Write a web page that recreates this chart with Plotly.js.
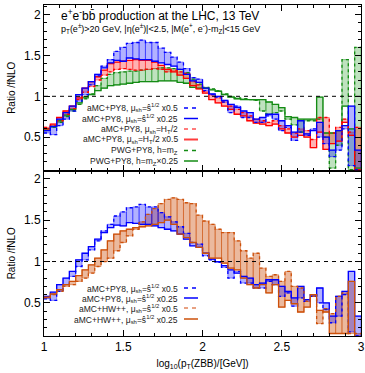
<!DOCTYPE html>
<html><head><meta charset="utf-8">
<script src="https://cdn.plot.ly/plotly-3.0.1.min.js"></script>
<style>html,body{margin:0;padding:0;background:#fff}#chart{width:365px;height:373px}</style>
</head><body><div id="chart"></div>
<script>
// bin edges in log10(pT(ZBB)/GeV)
const xEdges = [1.00,1.04,1.08,1.12,1.16,1.20,1.24,1.28,1.32,1.36,1.40,1.44,1.48,1.52,1.56,1.60,1.64,1.68,1.72,1.76,1.80,1.84,1.88,1.92,1.96,2.00,2.04,2.08,2.12,2.16,2.20,2.24,2.28,2.32,2.36,2.40,2.44,2.48,2.52,2.56,2.60,2.64,2.68,2.72,2.76,2.80,2.84,2.88,2.92,2.96,3.00];

// aMC+PY8, mu_sh = shat^1/2 x0.5 (dashed blue)
const amcPy8Shat05 = [0.55,0.53,0.64,0.72,0.82,0.94,1.02,1.14,1.25,1.37,1.45,1.55,1.60,1.65,1.66,1.69,1.66,1.66,1.59,1.54,1.48,1.42,1.34,1.23,1.21,1.07,1.02,0.99,0.93,0.80,0.88,0.74,0.74,0.68,0.68,0.76,0.72,0.58,0.62,0.46,0.56,0.52,0.60,0.50,0.42,0.26,0.34,0.60,0.15,0.10];
// aMC+PY8, mu_sh = shat^1/2 x0.25 (solid blue)
const amcPy8Shat025 = [0.58,0.63,0.72,0.80,0.88,1.02,1.10,1.18,1.27,1.35,1.41,1.44,1.43,1.47,1.46,1.45,1.45,1.43,1.41,1.39,1.37,1.33,1.27,1.19,1.17,1.10,1.03,1.00,0.95,0.90,0.86,0.82,0.80,0.72,0.74,0.78,0.78,0.70,0.64,0.56,0.70,0.54,0.58,0.68,0.50,0.34,0.58,0.64,0.88,0.34];
// aMC+PY8, mu_sh = H_T/2 (dashed red)
const amcPy8Ht = [0.62,0.64,0.70,0.78,0.85,0.96,1.05,1.12,1.20,1.26,1.30,1.33,1.34,1.33,1.32,1.32,1.33,1.34,1.33,1.30,1.32,1.30,1.28,1.18,1.14,1.06,1.02,0.98,0.93,0.88,0.84,0.80,0.76,0.72,0.70,0.68,0.70,0.64,0.60,0.55,0.60,0.58,0.47,0.74,0.74,0.55,0.62,0.72,0.56,0.62];
// aMC+PY8, mu_sh = H_T/2 x0.5 (solid red)
const amcPy8Ht05 = [0.60,0.66,0.74,0.82,0.88,0.98,1.10,1.18,1.24,1.32,1.40,1.42,1.43,1.44,1.45,1.44,1.44,1.42,1.38,1.33,1.30,1.26,1.22,1.13,1.09,1.04,0.96,0.92,0.88,0.84,0.78,0.76,0.70,0.67,0.66,0.64,0.66,0.60,0.55,0.50,0.52,0.50,0.37,0.56,0.35,0.42,0.45,0.68,0.52,0.10];
// PWG+PY8, h = mZ (dashed green)
const pwgPy8Mz = [0.58,0.62,0.68,0.75,0.82,0.90,0.97,1.03,1.13,1.22,1.27,1.29,1.30,1.31,1.31,1.32,1.33,1.34,1.35,1.35,1.34,1.33,1.29,1.21,1.15,1.11,1.09,1.07,1.03,1.00,0.98,0.97,0.96,0.95,0.82,0.78,0.80,0.82,0.72,0.65,0.56,0.70,0.70,0.72,0.50,0.12,0.40,1.45,0.10,1.60];
// PWG+PY8, h = mZ x0.25 (solid green)
const pwgPy8Mz025 = [0.60,0.63,0.70,0.77,0.84,0.92,0.99,1.02,1.07,1.10,1.13,1.14,1.15,1.16,1.17,1.18,1.18,1.18,1.19,1.19,1.19,1.17,1.16,1.11,1.10,1.10,1.08,1.06,1.02,0.99,0.97,0.96,0.96,0.96,0.96,0.93,0.90,0.86,0.75,0.74,0.72,0.72,0.72,0.99,0.55,0.55,0.58,0.88,0.60,0.12];
// aMC+HW++, mu_sh = shat^1/2 x0.5 (dashed orange)
const amcHwShat05 = [0.56,0.60,0.64,0.70,0.72,0.76,0.80,0.86,0.94,1.00,1.04,1.13,1.23,1.31,1.39,1.48,1.57,1.64,1.70,1.75,1.77,1.75,1.71,1.70,1.56,1.49,1.45,1.39,1.35,1.35,1.25,1.13,1.04,1.10,0.92,0.82,0.84,0.76,0.88,0.70,0.68,0.52,0.58,0.25,0.43,0.37,0.58,0.62,0.13,0.13];
// aMC+HW++, mu_sh = shat^1/2 x0.25 (solid orange)
const amcHwShat025 = [0.57,0.61,0.66,0.72,0.76,0.83,0.90,0.96,1.04,1.14,1.25,1.33,1.37,1.39,1.41,1.42,1.43,1.45,1.47,1.50,1.45,1.33,1.29,1.23,1.17,1.10,1.04,1.04,0.98,0.92,0.90,0.80,0.72,0.68,0.72,0.62,0.72,0.45,0.53,0.49,0.39,0.45,0.60,0.41,0.39,0.13,0.13,0.13,0.76,0.09];

const yTicks = [0.5, 1, 1.5, 2];
const xTicks = [1, 1.5, 2, 2.5, 3];

const centers = xEdges.slice(0,-1).map((e,i)=>(e + xEdges[i+1]) / 2);
const widths = xEdges.slice(0,-1).map((e,i)=>xEdges[i+1] - e);

function band(a, b, xa, ya, fill, edge) {
  return {type:'bar', x:centers, width:widths,
    base:a.map((v,i)=>Math.min(v,b[i])),
    y:a.map((v,i)=>Math.abs(b[i]-v)),
    xaxis:xa, yaxis:ya, marker:{color:fill, line:{color:edge, width:0.7}},
    hoverinfo:'skip', showlegend:false};
}
function step(v, xa, ya, color, dash, w) {
  return {type:'scatter', mode:'lines', x:xEdges, y:v.concat([v[v.length-1]]),
    xaxis:xa, yaxis:ya, line:{shape:'hv', color:color, dash:dash, width:w},
    hoverinfo:'skip', showlegend:false};
}

const BLUE='#0000ff', RED='#ff0000', GREEN='rgb(20,140,20)', ORANGE='rgb(205,80,10)';
const BLUEF='rgba(0,0,255,0.3)', REDF='rgba(255,0,0,0.3)', GREENF='rgba(0,140,0,0.25)', ORANGEF='rgba(210,100,40,0.45)';
const DSH='3px,3px';

const traces = [
  // upper panel
  band(pwgPy8Mz, pwgPy8Mz025, 'x2','y2', GREENF, 'rgba(20,140,20,0.7)'),
  band(amcPy8Ht, amcPy8Ht05, 'x2','y2', REDF, 'rgba(255,0,0,0.6)'),
  band(amcPy8Shat05, amcPy8Shat025, 'x2','y2', BLUEF, 'rgba(0,0,255,0.6)'),
  step(pwgPy8Mz, 'x2','y2', GREEN, DSH, 1.3),
  step(pwgPy8Mz025, 'x2','y2', GREEN, 'solid', 1.3),
  step(amcPy8Ht, 'x2','y2', RED, DSH, 1.3),
  step(amcPy8Ht05, 'x2','y2', RED, 'solid', 1.3),
  step(amcPy8Shat05, 'x2','y2', BLUE, DSH, 1.3),
  step(amcPy8Shat025, 'x2','y2', BLUE, 'solid', 1.3),
  // lower panel
  band(amcHwShat05, amcHwShat025, 'x','y', ORANGEF, 'rgba(205,80,10,0.7)'),
  band(amcPy8Shat05, amcPy8Shat025, 'x','y', BLUEF, 'rgba(0,0,255,0.6)'),
  step(amcPy8Shat05, 'x','y', BLUE, DSH, 1.3),
  step(amcPy8Shat025, 'x','y', BLUE, 'solid', 1.3),
  step(amcHwShat05, 'x','y', ORANGE, DSH, 1.3),
  step(amcHwShat025, 'x','y', ORANGE, 'solid', 1.3)
];

const FONT = 'Liberation Sans, Arial, Helvetica, sans-serif';
function xax(showLabels, anchor) {
  return {range:[1,3], tickmode:'array', tickvals:xTicks, ticktext:xTicks.map(String),
    ticks:'inside', ticklen:6, tickwidth:1, tickcolor:'#000',
    showticklabels:showLabels, showline:true, linecolor:'#000', linewidth:1, mirror:'ticks',
    showgrid:false, zeroline:false, anchor:anchor, fixedrange:true,
    minor:{dtick:0.1, tick0:1, ticks:'inside', ticklen:3, tickcolor:'#000', showgrid:false},
    tickfont:{family:FONT, size:12, color:'#000'}};
}
function yax(domain, anchor, range) {
  return {domain:domain, range:range, tickmode:'array', tickvals:yTicks, ticktext:yTicks.map(String),
    ticks:'inside', ticklen:6, tickwidth:1, tickcolor:'#000',
    showline:true, linecolor:'#000', linewidth:1, mirror:'ticks', showgrid:false, zeroline:false,
    anchor:anchor, fixedrange:true,
    minor:{dtick:0.1, tick0:0, ticks:'inside', ticklen:3, tickcolor:'#000', showgrid:false},
    tickfont:{family:FONT, size:12, color:'#000'},
    title:{text:'Ratio /fNLO', font:{family:FONT, size:10, color:'#000'}, standoff:6}};
}

const xa = xax(true,'y');
xa.title = {text:'log<sub>10</sub>(p<sub>T</sub>(ZBB)/[GeV])', font:{family:FONT, size:10, color:'#000'}, standoff:6};

// legend helpers (paper coordinates)
const PX0=44, PX1=361, PY0=5, PY1=336;
const px = v => (v-PX0)/(PX1-PX0);
const py = v => (PY1-v)/(PY1-PY0);
const ann = [], shapes = [];
function legRow(text, yPix, color, dash, w) {
  ann.push({xref:'paper', yref:'paper', x:px(180), y:py(yPix), xanchor:'right', yanchor:'middle',
    text:text, showarrow:false, font:{family:FONT, size:8.5, color:'#222'}});
  shapes.push({type:'line', xref:'paper', yref:'paper', x0:px(184), x1:px(198), y0:py(yPix), y1:py(yPix),
    line:{color:color, dash:dash, width:w}});
}
const SH = 'μ<sub>sh</sub>=ŝ<sup>1/2</sup>';
legRow('aMC+PY8, '+SH+' x0.5', 108, BLUE, '4px,4px', 1.3);
legRow('aMC+PY8, '+SH+' x0.25', 118.5, BLUE, 'solid', 1.5);
legRow('aMC+PY8, μ<sub>sh</sub>=H<sub>T</sub>/2', 129, 'rgb(255,80,80)', '4px,4px', 1.3);
legRow('aMC+PY8, μ<sub>sh</sub>=H<sub>T</sub>/2 x0.5', 139.5, 'rgb(255,60,60)', 'solid', 2);
legRow('PWG+PY8, h=m<sub>Z</sub>', 150.5, GREEN, '4px,4px', 1.3);
legRow('PWG+PY8, h=m<sub>Z</sub>×0.25', 161, GREEN, 'solid', 1.5);
legRow('aMC+PY8, '+SH+' x0.5', 288, BLUE, '4px,4px', 1.3);
legRow('aMC+PY8, '+SH+' x0.25', 298, BLUE, 'solid', 1.5);
legRow('aMC+HW++, '+SH+' x0.5', 308, 'rgb(225,130,90)', '4px,4px', 1.3);
legRow('aMC+HW++, '+SH+' x0.25', 319, ORANGE, 'solid', 1.5);

ann.push({xref:'paper', yref:'paper', x:px(59), y:py(14.5), xanchor:'left', yanchor:'middle', showarrow:false,
  text:'e<sup>+</sup>e<sup>-</sup>bb\u0304 production at the LHC, 13 TeV', font:{family:FONT, size:12, color:'#000'}});
ann.push({xref:'paper', yref:'paper', x:px(59), y:py(29), xanchor:'left', yanchor:'middle', showarrow:false,
  text:'p<sub>T</sub>(e<sup>±</sup>)>20 GeV, |η(e<sup>±</sup>)|<2.5, |M(e<sup>+</sup>, e<sup>-</sup>)-m<sub>Z</sub>|<15 GeV', font:{family:FONT, size:9, color:'#000'}});

// reference line at ratio 1
shapes.push({type:'line', xref:'x2', yref:'y2', x0:1, x1:3, y0:1, y1:1, line:{color:'#000', dash:'4px,4px', width:1}});
shapes.push({type:'line', xref:'x', yref:'y', x0:1, x1:3, y0:1, y1:1, line:{color:'#000', dash:'4px,4px', width:1}});

const layout = {
  width:365, height:373, margin:{l:44, r:4, t:5, b:37},
  paper_bgcolor:'#fff', plot_bgcolor:'#fff', barmode:'overlay', bargap:0, showlegend:false,
  xaxis:xa, xaxis2:xax(false,'y2'),
  yaxis:yax([0,0.5],'x',[0.1,2.1]), yaxis2:yax([0.5,1],'x2',[0.09,2.12]),
  annotations:ann, shapes:shapes,
  font:{family:FONT}
};
Plotly.newPlot('chart', traces, layout, {staticPlot:true, displayModeBar:false});
</script></body></html>
